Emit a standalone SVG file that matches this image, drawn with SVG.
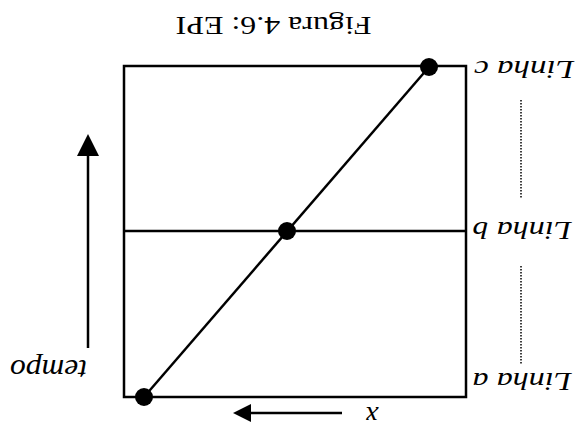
<svg xmlns="http://www.w3.org/2000/svg" width="579" height="435" viewBox="0 0 579 435">
<style>
.ln{stroke:#000;stroke-width:2.5;fill:none}
.dot{fill:#000}
.dotted{stroke:#000;stroke-width:1.5;stroke-dasharray:1.5 1.5;fill:none}
.lbl{font-family:"Liberation Serif",serif;font-style:italic;font-size:26px;fill:#000}
.ttl{font-family:"Liberation Serif",serif;font-size:26px;fill:#000}
</style>
<defs>
<marker id="ah" viewBox="0 0 10 10" refX="9" refY="5" markerWidth="8" markerHeight="8" markerUnits="userSpaceOnUse" orient="auto">
<path d="M0,0 L10,5 L0,10 Z" fill="#000"/>
</marker>
</defs>
<rect width="579" height="435" fill="#fff"/>
<g id="title"><text class="ttl" x="273.5" y="17" text-anchor="middle" textLength="196" lengthAdjust="spacingAndGlyphs" transform="rotate(180 273.5 17)">Figura 4.6: EPI</text></g>
<g id="frame">
<rect class="ln" x="124" y="66" width="342" height="331"/>
<line class="ln" x1="124" y1="231" x2="466" y2="231"/>
</g>
<g id="connectors">
<line class="ln" x1="144" y1="397" x2="429" y2="67"/>
<line class="dotted" x1="521" y1="100" x2="521" y2="199"/>
<line class="dotted" x1="521" y1="266" x2="521" y2="365"/>
<line stroke="#000" stroke-width="2.5" x1="88" y1="348" x2="88" y2="156"/>
<path d="M88,134 L77,156 L99,156 Z" fill="#000"/>
<line stroke="#000" stroke-width="2.5" x1="342" y1="413" x2="250" y2="413"/>
<path d="M233,413 L251,404 L251,422 Z" fill="#000"/>
</g>
<g id="pointA"><circle class="dot" cx="144" cy="397" r="9"/></g>
<g id="pointB"><circle class="dot" cx="287" cy="231" r="9"/></g>
<g id="pointC"><circle class="dot" cx="429" cy="67" r="9"/></g>
<g id="linhaC"><text class="lbl" x="524" y="61" text-anchor="middle" textLength="100" lengthAdjust="spacingAndGlyphs" transform="rotate(180 524 61)">Linha c</text></g>
<g id="linhaB"><text class="lbl" x="522" y="222" text-anchor="middle" textLength="99" lengthAdjust="spacingAndGlyphs" transform="rotate(180 522 222)">Linha b</text></g>
<g id="linhaA"><text class="lbl" x="522" y="373" text-anchor="middle" textLength="99" lengthAdjust="spacingAndGlyphs" transform="rotate(180 522 373)">Linha a</text></g>
<g id="tempo"><text class="lbl" style="font-size:30px" x="48.5" y="360" text-anchor="middle" textLength="77" lengthAdjust="spacingAndGlyphs" transform="rotate(180 48.5 360)">tempo</text></g>
<g id="xlabel"><text class="lbl" style="font-size:28px" x="372" y="407" text-anchor="middle" transform="rotate(180 372 407)">x</text></g>
</svg>
